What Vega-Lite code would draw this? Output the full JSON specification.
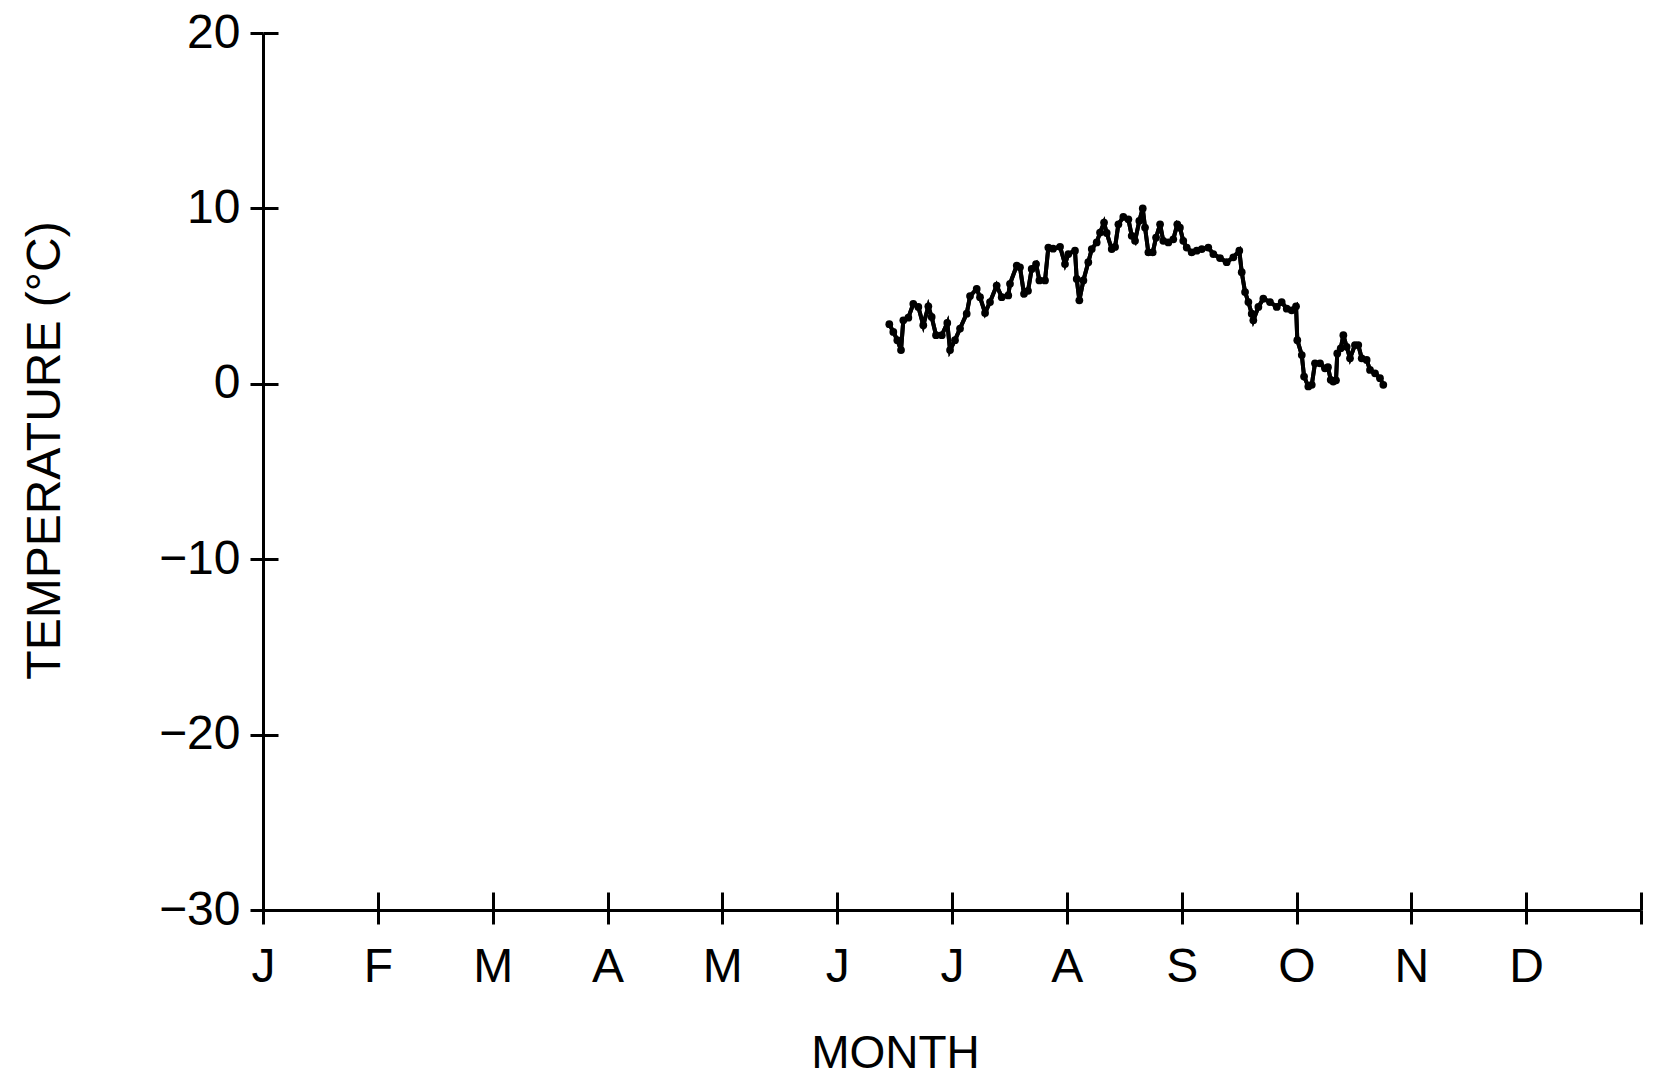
{
  "$schema": "https://vega.github.io/schema/vega-lite/v6.json",
  "autosize": {"type": "none"},
  "padding": {"left": 263, "top": 33, "right": 15, "bottom": 168},
  "width": 1378,
  "height": 877,
  "background": "white",
  "config": {
    "view": {"stroke": null},
    "font": "Liberation Sans",
    "axis": {"grid": false, "domainColor": "black", "tickColor": "black", "labelColor": "black", "titleColor": "black", "labelFont": "Liberation Sans", "titleFont": "Liberation Sans", "titleFontWeight": "normal"}
  },
  "data": {"values": [
    {"month": 5.454, "temp": 3.40}, {"month": 5.489, "temp": 2.96}, {"month": 5.524, "temp": 2.49}, {"month": 5.556, "temp": 1.92},
    {"month": 5.576, "temp": 3.62}, {"month": 5.620, "temp": 3.77}, {"month": 5.663, "temp": 4.56}, {"month": 5.707, "temp": 4.38},
    {"month": 5.750, "temp": 3.34}, {"month": 5.794, "temp": 4.42}, {"month": 5.823, "temp": 3.81}, {"month": 5.861, "temp": 2.77},
    {"month": 5.911, "temp": 2.77}, {"month": 5.959, "temp": 3.47}, {"month": 5.983, "temp": 1.92}, {"month": 6.026, "temp": 2.49},
    {"month": 6.070, "temp": 3.15}, {"month": 6.128, "temp": 4.00}, {"month": 6.157, "temp": 5.00}, {"month": 6.215, "temp": 5.41},
    {"month": 6.244, "temp": 4.94}, {"month": 6.288, "temp": 4.04}, {"month": 6.331, "temp": 4.66}, {"month": 6.389, "temp": 5.60},
    {"month": 6.433, "temp": 4.94}, {"month": 6.490, "temp": 5.04}, {"month": 6.505, "temp": 5.70}, {"month": 6.564, "temp": 6.74},
    {"month": 6.592, "temp": 6.64}, {"month": 6.627, "temp": 5.13}, {"month": 6.662, "temp": 5.30}, {"month": 6.694, "temp": 6.55},
    {"month": 6.732, "temp": 6.83}, {"month": 6.761, "temp": 5.89}, {"month": 6.810, "temp": 5.89}, {"month": 6.839, "temp": 7.77},
    {"month": 6.880, "temp": 7.70}, {"month": 6.941, "temp": 7.81}, {"month": 6.984, "temp": 6.83}, {"month": 7.013, "temp": 7.40},
    {"month": 7.071, "temp": 7.59}, {"month": 7.086, "temp": 5.98}, {"month": 7.109, "temp": 4.76}, {"month": 7.144, "temp": 5.89},
    {"month": 7.187, "temp": 6.93}, {"month": 7.217, "temp": 7.68}, {"month": 7.260, "temp": 8.06}, {"month": 7.289, "temp": 8.62},
    {"month": 7.324, "temp": 9.19}, {"month": 7.347, "temp": 8.60}, {"month": 7.391, "temp": 7.68}, {"month": 7.420, "temp": 7.80},
    {"month": 7.449, "temp": 9.09}, {"month": 7.492, "temp": 9.51}, {"month": 7.536, "temp": 9.38}, {"month": 7.565, "temp": 8.44},
    {"month": 7.594, "temp": 8.15}, {"month": 7.631, "temp": 9.29}, {"month": 7.661, "temp": 10.0}, {"month": 7.681, "temp": 8.91},
    {"month": 7.710, "temp": 7.49}, {"month": 7.748, "temp": 7.49}, {"month": 7.777, "temp": 8.34}, {"month": 7.812, "temp": 9.09},
    {"month": 7.840, "temp": 8.15}, {"month": 7.884, "temp": 8.06}, {"month": 7.927, "temp": 8.24}, {"month": 7.962, "temp": 9.09},
    {"month": 7.985, "temp": 8.90}, {"month": 8.014, "temp": 8.15}, {"month": 8.044, "temp": 7.77}, {"month": 8.087, "temp": 7.49},
    {"month": 8.131, "temp": 7.59}, {"month": 8.175, "temp": 7.68}, {"month": 8.232, "temp": 7.77}, {"month": 8.276, "temp": 7.40},
    {"month": 8.334, "temp": 7.17}, {"month": 8.392, "temp": 6.93}, {"month": 8.450, "temp": 7.21}, {"month": 8.502, "temp": 7.59},
    {"month": 8.523, "temp": 6.36}, {"month": 8.552, "temp": 5.23}, {"month": 8.581, "temp": 4.66}, {"month": 8.610, "temp": 4.00},
    {"month": 8.624, "temp": 3.62}, {"month": 8.668, "temp": 4.38}, {"month": 8.711, "temp": 4.85}, {"month": 8.769, "temp": 4.66},
    {"month": 8.828, "temp": 4.38}, {"month": 8.871, "temp": 4.66}, {"month": 8.915, "temp": 4.28}, {"month": 8.958, "temp": 4.19},
    {"month": 8.996, "temp": 4.42}, {"month": 9.007, "temp": 2.49}, {"month": 9.046, "temp": 1.64}, {"month": 9.066, "temp": 0.41},
    {"month": 9.103, "temp": -0.15}, {"month": 9.133, "temp": -0.06}, {"month": 9.161, "temp": 1.17}, {"month": 9.205, "temp": 1.17},
    {"month": 9.248, "temp": 0.88}, {"month": 9.274, "temp": 0.95}, {"month": 9.298, "temp": 0.23}, {"month": 9.320, "temp": 0.13},
    {"month": 9.344, "temp": 0.20}, {"month": 9.355, "temp": 1.73}, {"month": 9.385, "temp": 2.02}, {"month": 9.408, "temp": 2.77},
    {"month": 9.437, "temp": 2.11}, {"month": 9.466, "temp": 1.45}, {"month": 9.509, "temp": 2.21}, {"month": 9.538, "temp": 2.21},
    {"month": 9.568, "temp": 1.45}, {"month": 9.611, "temp": 1.36}, {"month": 9.640, "temp": 0.79}, {"month": 9.684, "temp": 0.60},
    {"month": 9.727, "temp": 0.32}, {"month": 9.756, "temp": -0.06}
  ]},
  "layer": [
    {
      "mark": {"type": "line", "color": "black", "strokeWidth": 4, "point": {"filled": true, "color": "black", "size": 60}},
      "encoding": {
        "x": {"field": "month", "type": "quantitative", "scale": {"domain": [0, 12], "nice": false, "zero": false},
          "axis": {"values": [0,1,2,3,4,5,6,7,8,9,10,11,12], "labelExpr": "['J','F','M','A','M','J','J','A','S','O','N','D',''][datum.value]",
            "labelFontSize": 48, "labelBaseline": "alphabetic", "labelPadding": 57, "labelFlush": false, "labelOverlap": false, "labelBound": false,
            "tickSize": 14, "tickWidth": 3, "domainWidth": 3,
            "title": "MONTH", "titleFontSize": 46, "titleX": 632, "titleY": 157, "titleBaseline": "alphabetic", "titleAlign": "center", "titleAnchor": null}},
        "y": {"field": "temp", "type": "quantitative", "scale": {"domain": [-30, 20], "nice": false, "zero": false},
          "axis": {"values": [-30,-20,-10,0,10,20], "labelFontSize": 48, "labelPadding": 10, "labelBaseline": "middle", "labelFlush": false, "labelOverlap": false, "labelBound": false,
            "tickSize": 13, "tickWidth": 3, "domainWidth": 3,
            "title": "TEMPERATURE (°C)", "titleFontSize": 48, "titleAngle": -90, "titleX": -204, "titleY": 417, "titleBaseline": "alphabetic", "titleAlign": "center"}}
      }
    },
    {
      "mark": {"type": "line", "color": "black", "strokeWidth": 4},
      "encoding": {
        "x": {"field": "month", "type": "quantitative",
          "axis": {"orient": "bottom", "values": [0,1,2,3,4,5,6,7,8,9,10,11,12], "labels": false, "domain": false, "tickSize": -18, "tickWidth": 3, "title": null}},
        "y": {"field": "temp", "type": "quantitative",
          "axis": {"orient": "left", "values": [-30,-20,-10,0,10,20], "labels": false, "domain": false, "tickSize": -15, "tickWidth": 3, "title": null}}
      }
    }
  ],
  "resolve": {"axis": {"x": "independent", "y": "independent"}}
}
